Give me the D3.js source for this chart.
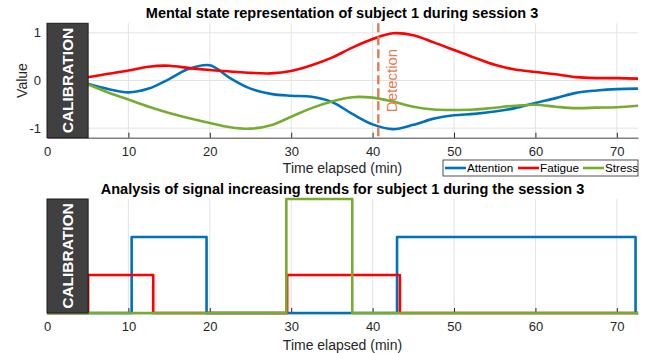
<!DOCTYPE html>
<html>
<head>
<meta charset="utf-8">
<script src="https://cdn.jsdelivr.net/npm/d3@7"></script>
<style>
  body { margin: 0; background: #fff; }
  svg { font-family: "Liberation Sans", Arial, sans-serif; display: block; }
</style>
</head>
<body>
<div id="chart"></div>
<script>
// sampled time points (min) for the mental state curves
const timeMin = [5, 7.5, 10, 12.5, 15, 17.5, 20, 22.5, 25, 27.5, 30, 32.5, 35, 37.5, 40, 42.5, 45, 47.5, 50, 52.5, 55, 57.5, 60, 62.5, 65, 67.5, 70, 72.6];
const attention = [-0.07, -0.18, -0.25, -0.17, 0.03, 0.25, 0.32, 0.05, -0.17, -0.28, -0.32, -0.34, -0.45, -0.70, -0.92, -1.02, -0.93, -0.80, -0.73, -0.70, -0.65, -0.58, -0.47, -0.37, -0.26, -0.21, -0.18, -0.17];
const fatigue = [0.07, 0.14, 0.21, 0.29, 0.31, 0.26, 0.22, 0.19, 0.16, 0.15, 0.20, 0.32, 0.48, 0.69, 0.87, 0.99, 0.95, 0.80, 0.64, 0.48, 0.33, 0.23, 0.18, 0.13, 0.07, 0.05, 0.05, 0.04];
const stress = [-0.08, -0.25, -0.40, -0.55, -0.68, -0.79, -0.89, -0.98, -1.01, -0.94, -0.76, -0.58, -0.44, -0.35, -0.36, -0.44, -0.55, -0.61, -0.62, -0.61, -0.57, -0.53, -0.51, -0.55, -0.58, -0.57, -0.56, -0.53];

const seriesNames = ["Attention", "Fatigue", "Stress"];
const seriesColors = ["#0072BD", "#FF0000", "#77AC30"];

// increasing-trend windows [start, end] in minutes, and plotted level
const attentionOn = [[10.4, 19.6], [43.0, 72.3]];
const fatigueOn = [[5.05, 13.05], [29.5, 43.35]];
const stressOn = [[29.4, 37.5]];
const trendLevels = [2, 1, 3];

const calibrationEnd = 5.05;
const detectionTime = 40.7;
const timeMax = 72.6;
const xTicks = [0, 10, 20, 30, 40, 50, 60, 70];
const yTicks = [-1, 0, 1];

const width = 657, height = 353;
const left = 47, right = 638;

const svg = d3.select("#chart").append("svg")
    .attr("width", width)
    .attr("height", height);

const x = d3.scaleLinear().domain([0, timeMax]).range([left, right]);

// ---------- top panel ----------
const yTop = d3.scaleLinear().domain([-1.2, 1.2]).range([137.7, 23.3]);
const topPanel = svg.append("g");

// grid
topPanel.append("g").selectAll("line").data(xTicks.slice(1)).join("line")
    .attr("x1", d => x(d)).attr("x2", d => x(d))
    .attr("y1", yTop(1.2)).attr("y2", yTop(-1.2))
    .attr("stroke", "#e3e3e3").attr("stroke-width", 1);
topPanel.append("g").selectAll("line").data(yTicks).join("line")
    .attr("x1", left).attr("x2", right)
    .attr("y1", d => yTop(d)).attr("y2", d => yTop(d))
    .attr("stroke", "#e3e3e3").attr("stroke-width", 1);

// x axis
topPanel.append("g")
    .attr("transform", `translate(0,${yTop(-1.2)})`)
    .call(d3.axisBottom(x).tickValues(xTicks).tickSizeInner(-5).tickSizeOuter(0).tickPadding(9))
    .call(g => g.select(".domain").attr("stroke", "#808080").attr("stroke-width", 1.6))
    .call(g => g.selectAll(".tick line").attr("stroke", "#262626"))
    .call(g => g.selectAll(".tick text").attr("font-size", 13).attr("fill", "#262626").attr("font-family", "Liberation Sans"));

// y tick labels
topPanel.append("g").selectAll("text").data(yTicks).join("text")
    .attr("x", 41).attr("y", d => yTop(d))
    .attr("dy", "0.35em")
    .attr("text-anchor", "end")
    .attr("font-size", 13).attr("fill", "#262626")
    .text(d => d);

// lines
const lineTop = d3.line()
    .x((d, i) => x(timeMin[i]))
    .y(d => yTop(d))
    .curve(d3.curveCatmullRom.alpha(0.5));

[attention, fatigue, stress].forEach((vals, k) => {
    topPanel.append("path")
        .datum(vals)
        .attr("d", lineTop)
        .attr("fill", "none")
        .attr("stroke", seriesColors[k])
        .attr("stroke-width", 2.6);
});

// detection marker
topPanel.append("line")
    .attr("x1", x(detectionTime)).attr("x2", x(detectionTime))
    .attr("y1", yTop(1.2)).attr("y2", yTop(-1.2))
    .attr("stroke", "#E37A50").attr("stroke-width", 2.4)
    .attr("stroke-dasharray", "9,4");
topPanel.append("text")
    .attr("transform", `translate(${x(detectionTime) + 19},${yTop(0)}) rotate(-90)`)
    .attr("text-anchor", "middle")
    .attr("font-size", 15).attr("fill", "#E37A50")
    .text("Detection");

// calibration block
topPanel.append("rect")
    .attr("x", x(0)).attr("y", yTop(1.2))
    .attr("width", x(calibrationEnd) - x(0))
    .attr("height", yTop(-1.2) - yTop(1.2))
    .attr("fill", "#404040").attr("stroke", "#1a1a1a").attr("stroke-width", 1);
topPanel.append("text")
    .attr("transform", `translate(${(x(0) + x(calibrationEnd)) / 2 + 5.5},${(yTop(1.2) + yTop(-1.2)) / 2}) rotate(-90)`)
    .attr("text-anchor", "middle")
    .attr("font-size", 15.5).attr("font-weight", "bold").attr("fill", "#fff")
    .text("CALIBRATION");

// labels
topPanel.append("text")
    .attr("x", 342).attr("y", 18)
    .attr("text-anchor", "middle")
    .attr("font-size", 14.5).attr("font-weight", "bold").attr("fill", "#000")
    .text("Mental state representation of subject 1 during session 3");
topPanel.append("text")
    .attr("x", 342.5).attr("y", 173)
    .attr("text-anchor", "middle")
    .attr("font-size", 14).attr("fill", "#262626")
    .text("Time elapsed (min)");
topPanel.append("text")
    .attr("transform", `translate(27,${yTop(0)}) rotate(-90)`)
    .attr("text-anchor", "middle")
    .attr("font-size", 14).attr("fill", "#262626")
    .text("Value");

// legend
const legend = topPanel.append("g").attr("transform", "translate(443,160)");
legend.append("rect")
    .attr("width", 195).attr("height", 16)
    .attr("fill", "#fff").attr("stroke", "#262626").attr("stroke-width", 0.8);
const legendX = [2, 75, 140];
const legendItem = legend.selectAll("g.item").data(seriesNames).join("g")
    .attr("class", "item")
    .attr("transform", (d, i) => `translate(${legendX[i]},8)`);
legendItem.append("line")
    .attr("x1", 0).attr("x2", 21)
    .attr("stroke", (d, i) => seriesColors[i]).attr("stroke-width", 2.6);
legendItem.append("text")
    .attr("x", 22).attr("dy", "0.36em")
    .attr("font-size", 11.7).attr("fill", "#000")
    .text(d => d);

// ---------- bottom panel ----------
const yBot = d3.scaleLinear().domain([0, 3]).range([313, 199]);
const botPanel = svg.append("g");

botPanel.append("g").selectAll("line").data(xTicks.slice(1)).join("line")
    .attr("x1", d => x(d)).attr("x2", d => x(d))
    .attr("y1", yBot(3)).attr("y2", yBot(0))
    .attr("stroke", "#e3e3e3").attr("stroke-width", 1);

botPanel.append("g")
    .attr("transform", `translate(0,${yBot(0)})`)
    .call(d3.axisBottom(x).tickValues(xTicks).tickSizeInner(-5).tickSizeOuter(0).tickPadding(9))
    .call(g => g.select(".domain").attr("stroke", "#808080").attr("stroke-width", 1.6))
    .call(g => g.selectAll(".tick line").attr("stroke", "#262626"))
    .call(g => g.selectAll(".tick text").attr("font-size", 13).attr("fill", "#262626").attr("font-family", "Liberation Sans"));

function stepPoints(windows, level) {
    const pts = [[0, 0]];
    windows.forEach(([a, b]) => {
        pts.push([a, 0], [a, level], [b, level], [b, 0]);
    });
    pts.push([timeMax, 0]);
    return pts;
}

const lineBot = d3.line().x(d => x(d[0])).y(d => yBot(d[1]));
[attentionOn, fatigueOn, stressOn].forEach((w, k) => {
    botPanel.append("path")
        .datum(stepPoints(w, trendLevels[k]))
        .attr("d", lineBot)
        .attr("fill", "none")
        .attr("stroke", seriesColors[k])
        .attr("stroke-width", 2.6)
        .attr("stroke-linejoin", "round");
});

botPanel.append("rect")
    .attr("x", x(0)).attr("y", yBot(3))
    .attr("width", x(calibrationEnd) - x(0))
    .attr("height", yBot(0) - yBot(3))
    .attr("fill", "#404040").attr("stroke", "#1a1a1a").attr("stroke-width", 1);
botPanel.append("text")
    .attr("transform", `translate(${(x(0) + x(calibrationEnd)) / 2 + 5.5},${(yBot(3) + yBot(0)) / 2}) rotate(-90)`)
    .attr("text-anchor", "middle")
    .attr("font-size", 15.5).attr("font-weight", "bold").attr("fill", "#fff")
    .text("CALIBRATION");

botPanel.append("text")
    .attr("x", 342.5).attr("y", 194)
    .attr("text-anchor", "middle")
    .attr("font-size", 14.5).attr("font-weight", "bold").attr("fill", "#000")
    .text("Analysis of signal increasing trends for subject 1 during the session 3");
botPanel.append("text")
    .attr("x", 342.5).attr("y", 350)
    .attr("text-anchor", "middle")
    .attr("font-size", 14).attr("fill", "#262626")
    .text("Time elapsed (min)");
</script>
</body>
</html>
